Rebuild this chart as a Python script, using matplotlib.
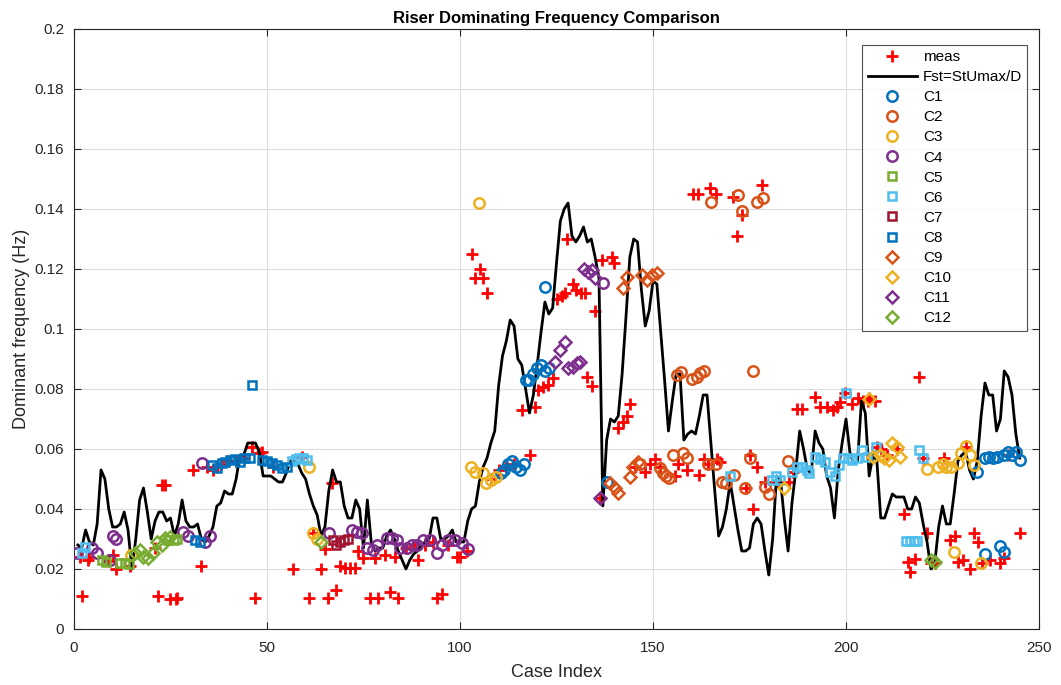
import matplotlib
matplotlib.use("Agg")
import matplotlib.pyplot as plt
import numpy as np

plt.rcParams['font.family'] = ['Liberation Sans', 'DejaVu Sans']

# ---------------- data ----------------
fst_y = [0.028, 0.027, 0.033, 0.029, 0.028, 0.035, 0.053, 0.050, 0.040, 0.034,
         0.034, 0.035, 0.039, 0.033, 0.020, 0.030, 0.043, 0.047, 0.039, 0.030,
         0.036, 0.039, 0.039, 0.036, 0.037, 0.031, 0.035, 0.043, 0.036, 0.034,
         0.034, 0.035, 0.030, 0.029, 0.031, 0.034, 0.041, 0.042, 0.046, 0.045,
         0.045, 0.050, 0.058, 0.058, 0.062, 0.062, 0.062, 0.059, 0.051, 0.051,
         0.051, 0.050, 0.049, 0.049, 0.052, 0.056, 0.056, 0.055, 0.052, 0.050,
         0.045, 0.041, 0.038, 0.031, 0.034, 0.046, 0.053, 0.049, 0.049, 0.041,
         0.037, 0.037, 0.043, 0.040, 0.027, 0.043, 0.029, 0.026, 0.027, 0.027,
         0.031, 0.033, 0.030, 0.026, 0.023, 0.020, 0.023, 0.025, 0.026, 0.028,
         0.029, 0.030, 0.037, 0.037, 0.030, 0.030, 0.031, 0.033, 0.029, 0.029,
         0.029, 0.036, 0.040, 0.041, 0.049, 0.054, 0.057, 0.062, 0.066, 0.081,
         0.091, 0.096, 0.103, 0.101, 0.090, 0.088, 0.080, 0.072, 0.078, 0.088,
         0.099, 0.109, 0.105, 0.107, 0.122, 0.136, 0.140, 0.142, 0.131, 0.129,
         0.131, 0.134, 0.129, 0.130, 0.124, 0.117, 0.041, 0.063, 0.070, 0.069,
         0.071, 0.085, 0.104, 0.124, 0.130, 0.129, 0.113, 0.101, 0.106, 0.116,
         0.115, 0.099, 0.083, 0.066, 0.076, 0.085, 0.085, 0.063, 0.065, 0.066,
         0.065, 0.071, 0.078, 0.078, 0.062, 0.046, 0.031, 0.034, 0.040, 0.049,
         0.041, 0.033, 0.026, 0.026, 0.027, 0.035, 0.037, 0.035, 0.026, 0.018,
         0.030, 0.051, 0.050, 0.037, 0.026, 0.042, 0.053, 0.066, 0.060, 0.053,
         0.052, 0.066, 0.062, 0.060, 0.051, 0.047, 0.037, 0.053, 0.062, 0.070,
         0.059, 0.055, 0.056, 0.076, 0.072, 0.051, 0.058, 0.056, 0.037, 0.037,
         0.041, 0.045, 0.044, 0.044, 0.044, 0.040, 0.040, 0.044, 0.042, 0.035,
         0.029, 0.020, 0.022, 0.034, 0.041, 0.035, 0.035, 0.045, 0.056, 0.058,
         0.059, 0.053, 0.050, 0.056, 0.071, 0.082, 0.078, 0.078, 0.066, 0.070,
         0.086, 0.084, 0.078, 0.065, 0.057]
fst_x = list(range(1, len(fst_y) + 1))

meas_x = [1.6, 2, 3.5, 4, 9, 10.2, 11, 14.5, 21, 21.8, 22.8, 23.6, 24.9, 26.4, 26.8,
          30.9, 33, 34.4, 36, 37, 38, 40, 42, 44, 46, 46.9, 48, 48.6, 51.6, 56.8, 59,
          61, 62, 63.9, 65, 65.8, 66.8, 68, 69, 70.2, 71.5, 72.8, 73.6, 74.9, 76.7,
          78, 78.8, 80.6, 81.9, 83.2, 84, 86, 88, 89, 91, 93, 94, 95.3, 97, 99.2,
          100, 101.8,
          103, 104, 105.2, 106, 107, 108, 110, 112, 114, 116, 118.1, 119.4, 120.3,
          121.6, 122.8, 124, 125, 126.4, 127.2, 127.8, 129.2, 130, 131.3, 132.4,
          132.8, 134.1, 135, 136.3, 136.7, 139.3, 139.9, 141, 142.3, 143.3, 144,
          145.3, 148, 149.2, 150.5, 151.8, 155.7, 156.6, 158.7, 160.3, 161.6, 162,
          163.2, 164.3, 164.8, 166.3, 166.5, 167.4, 170.8, 171.8, 173, 174.1, 175.1,
          176, 177, 178.2, 179, 182, 185.2, 186.3, 187.2, 188.5, 192, 193.3, 195,
          196.6, 197.6, 198.4, 199.7, 201.5, 203.2, 204.5, 205.8, 206, 207.5, 208,
          209, 210.7, 213.3, 215, 216.1, 216.6, 218, 219, 220, 221, 222, 223, 225.5,
          227, 228.2, 229.1, 230.2, 231.1, 232.1, 233.2, 234.3, 235.2, 237.3, 239.9,
          241, 242, 245]
meas_y = [0.024, 0.011, 0.023, 0.024, 0.0227, 0.0247, 0.020, 0.021, 0.027, 0.011,
          0.048, 0.048, 0.010, 0.010, 0.0105,
          0.053, 0.021, 0.054, 0.053, 0.054, 0.055, 0.056, 0.056, 0.057, 0.0608,
          0.0103, 0.0587, 0.059, 0.054, 0.020, 0.0574,
          0.0103, 0.032, 0.020, 0.0267, 0.0103, 0.0488, 0.013, 0.021, 0.0205, 0.0205,
          0.0205, 0.026, 0.0237, 0.0103,
          0.0237, 0.0103, 0.0247, 0.0124, 0.024, 0.0103, 0.027, 0.028, 0.023, 0.028,
          0.029, 0.0103, 0.0117, 0.028, 0.024,
          0.024, 0.026,
          0.125, 0.117, 0.120, 0.117, 0.112, 0.050, 0.053, 0.054, 0.055, 0.073,
          0.058, 0.074, 0.0797,
          0.0807, 0.0813, 0.0837, 0.110, 0.111, 0.112, 0.130, 0.115, 0.113, 0.112,
          0.112,
          0.084, 0.081, 0.106, 0.0437, 0.123, 0.124, 0.122, 0.067, 0.069, 0.071,
          0.075,
          0.054, 0.0524, 0.055, 0.0567, 0.054, 0.051, 0.055, 0.053, 0.145, 0.145,
          0.0513,
          0.0567, 0.055, 0.147, 0.145, 0.0567, 0.0558, 0.144, 0.131, 0.138, 0.047,
          0.058,
          0.040, 0.054, 0.148, 0.049, 0.049, 0.049, 0.0524, 0.0733, 0.0733, 0.0773,
          0.074, 0.074,
          0.073, 0.074, 0.0758, 0.0786, 0.075, 0.077, 0.076, 0.076, 0.077, 0.076,
          0.0608,
          0.060, 0.058, 0.060, 0.0383, 0.0224, 0.019, 0.0232, 0.084, 0.057, 0.032,
          0.022, 0.022, 0.057,
          0.0297, 0.031, 0.0224, 0.023, 0.0608, 0.020, 0.032, 0.029, 0.022, 0.023,
          0.022,
          0.0236, 0.058, 0.032]

c1_x = [110.5, 111.5, 112.5, 113.5, 114.5, 115.5, 116.5, 117, 118, 119, 120, 121,
        122, 123, 122, 138, 234, 236, 237, 238, 239, 241, 242, 243, 244, 245,
        236, 240, 241]
c1_y = [0.052, 0.053, 0.055, 0.056, 0.054, 0.053, 0.055, 0.083, 0.083, 0.085,
        0.087, 0.088, 0.086, 0.087, 0.114, 0.049, 0.0525, 0.057, 0.0575, 0.057,
        0.0575, 0.058, 0.059, 0.058, 0.059, 0.0565, 0.025, 0.0277, 0.0258]

c2_x = [165, 172, 173.1, 177, 178.4, 156.1, 157.2, 160, 161.3, 162.3, 163.2, 176,
        146.6, 151.8, 152.6, 153.4, 154.2, 155.1, 157.9, 158.9, 164.3, 166.3,
        167.9, 168.8, 170.9, 173.9, 175, 179.1, 180.1, 185.1]
c2_y = [0.1425, 0.1447, 0.1393, 0.1425, 0.1436, 0.0847, 0.0858, 0.0833, 0.0841,
        0.0852, 0.0861, 0.0861,
        0.055, 0.0537, 0.052, 0.051, 0.0503, 0.058, 0.0588, 0.0569, 0.055, 0.055,
        0.049, 0.0486, 0.0513, 0.0469, 0.0569, 0.0472, 0.045, 0.0561]

c3_x = [104.9, 102.8, 104, 106, 106.8, 108.1, 109.4, 14.8, 62, 62.9, 61,
        221, 223.8, 225, 226, 227.1, 229, 229.9, 231, 232.1, 233.2, 228, 235]
c3_y = [0.1419, 0.054, 0.0524, 0.0519, 0.0486, 0.0497, 0.0506, 0.0247, 0.032,
        0.030, 0.054,
        0.0535, 0.054, 0.055, 0.054, 0.054, 0.0552, 0.0586, 0.061, 0.058, 0.0547,
        0.0258, 0.0221]

c4_x = [0.7, 4.6, 5.9, 9.2, 10, 11, 28.3, 29.6, 33.1, 34, 35.2, 66.1, 71.9, 73.2,
        74.5, 75.8, 77.5, 78.4, 81, 82.3, 83.6, 84.5, 86.2, 87.5, 88.8, 90.5, 92.2,
        94, 95.3, 97, 98.7, 100.4, 102, 137]
c4_y = [0.0254, 0.0269, 0.0252, 0.023, 0.031, 0.030, 0.0324, 0.031, 0.0552, 0.029,
        0.031, 0.032, 0.033, 0.0324, 0.032, 0.0269, 0.0263, 0.028, 0.0302, 0.0302,
        0.0297, 0.0269, 0.0269, 0.028, 0.028, 0.0297, 0.0297, 0.0252, 0.028,
        0.0297, 0.0297, 0.0286, 0.0266, 0.1152]

c5_x = [7.2, 8.3, 11.9, 13.2, 14.3, 24.4, 25.9, 26.8]
c5_y = [0.023, 0.0224, 0.0221, 0.0219, 0.0217, 0.0297, 0.0297, 0.030]

c6_x = [2, 2.8, 56.4, 57.4, 58.4, 59.4, 60.4, 170, 180.8, 181.9, 183, 186, 187.3,
        188.6, 189.9, 190.5, 192, 193.3, 194.6, 195.9, 197.2, 198.1, 199.1, 200.5,
        201.6, 202.8, 204.1, 205.4, 200, 207.8, 218.9, 220, 215.5, 216.5, 217.5,
        218.5]
c6_y = [0.0252, 0.0274, 0.056, 0.0567, 0.057, 0.057, 0.0565, 0.051, 0.0497, 0.051,
        0.0497, 0.0524, 0.054, 0.054, 0.053, 0.052, 0.0574, 0.0566, 0.0558,
        0.0524, 0.051, 0.0547, 0.0569, 0.0569, 0.0563, 0.0569, 0.0597, 0.0574,
        0.0788, 0.0608, 0.0597, 0.0569, 0.0295, 0.0295, 0.0295, 0.0295]

c7_x = [67, 68, 69, 70, 71]
c7_y = [0.0297, 0.028, 0.029, 0.0297, 0.030]

c8_x = [31.3, 32.6, 35.7, 37, 38.3, 39.1, 40.4, 41.7, 43, 44.3, 45.6, 46,
        48.6, 49.9, 51.2, 52.5, 53.8, 55.1]
c8_y = [0.0297, 0.029, 0.0547, 0.0536, 0.0552, 0.0558, 0.0563, 0.0566, 0.0558,
        0.0569, 0.0569, 0.0813, 0.0563, 0.056, 0.0552, 0.0547, 0.0536, 0.054]

c9_x = [138.9, 140.2, 141, 144, 144.9, 146.2, 142.1, 143.2, 147.1, 148.4, 149.7, 151]
c9_y = [0.0487, 0.047, 0.0453, 0.0508, 0.054, 0.0558, 0.1136, 0.1172, 0.118,
        0.1165, 0.118, 0.1188]

c10_x = [183.9, 205.9, 206.9, 208.8, 209.8, 211.2, 211.8, 213.1, 214]
c10_y = [0.0469, 0.0766, 0.0574, 0.058, 0.0569, 0.0563, 0.0619, 0.0608, 0.0574]

c11_x = [132, 133.2, 134.1, 135, 124.6, 125.9, 127.2, 128, 129.4, 130.2, 131.1, 136.3]
c11_y = [0.120, 0.119, 0.1197, 0.1169, 0.089, 0.093, 0.0958, 0.0869, 0.0874,
         0.0886, 0.089, 0.0436]

c12_x = [15.8, 17.1, 18, 19.3, 20.5, 21.6, 22.7, 23.6, 24.9, 63.9, 222, 223]
c12_y = [0.0252, 0.0263, 0.0241, 0.0236, 0.0252, 0.029, 0.028, 0.0302, 0.0308,
         0.029, 0.023, 0.0224]

x_ticks = [0, 50, 100, 150, 200, 250]
y_ticks = [0, 0.02, 0.04, 0.06, 0.08, 0.1, 0.12, 0.14, 0.16, 0.18, 0.2]
y_tick_labels = ['0', '0.02', '0.04', '0.06', '0.08', '0.1', '0.12', '0.14',
                 '0.16', '0.18', '0.2']

# ---------------- plotting ----------------
blue = '#0072BD'
orange = '#D95319'
yellow = '#EDB120'
purple = '#7E2F8E'
green = '#77AC30'
cyan = '#4DBEEE'
darkred = '#A2142F'

fig = plt.figure(figsize=(10.61, 6.85), dpi=100)
ax = fig.add_axes([74 / 1061, 56 / 685, 965 / 1061, 600 / 685])

ax.plot(meas_x, meas_y, '+', color='red', ms=8, mew=2, label='meas', zorder=3)
ax.plot(fst_x, fst_y, '-', color='black', lw=2, label='Fst=StUmax/D', zorder=3)

series = [
    (c1_x, c1_y, 'o', blue, 'C1', 7.5),
    (c2_x, c2_y, 'o', orange, 'C2', 7.5),
    (c3_x, c3_y, 'o', yellow, 'C3', 7.5),
    (c4_x, c4_y, 'o', purple, 'C4', 7.5),
    (c5_x, c5_y, 's', green, 'C5', 6),
    (c6_x, c6_y, 's', cyan, 'C6', 6),
    (c7_x, c7_y, 's', darkred, 'C7', 6),
    (c8_x, c8_y, 's', blue, 'C8', 6),
    (c9_x, c9_y, 'D', orange, 'C9', 6),
    (c10_x, c10_y, 'D', yellow, 'C10', 6),
    (c11_x, c11_y, 'D', purple, 'C11', 6),
    (c12_x, c12_y, 'D', green, 'C12', 6),
]
for xs, ys, m, c, lab, s in series:
    ax.plot(xs, ys, m, mfc='none', mec=c, mew=1.8, ms=s, label=lab, zorder=4)

ax.set_xlim(0, 250)
ax.set_ylim(0, 0.2)
ax.set_xticks(x_ticks)
ax.set_yticks(y_ticks)
ax.set_yticklabels(y_tick_labels)
ax.grid(True, color='#dcdcdc', lw=0.8)
ax.set_axisbelow(True)
ax.tick_params(direction='in', top=True, right=True, length=5, width=0.8,
               labelsize=11, colors='#262626')
ax.tick_params(axis='x', pad=9)
ax.tick_params(axis='y', pad=7)
for sp in ax.spines.values():
    sp.set_color('#262626')
    sp.set_linewidth(0.8)

ax.set_title('Riser Dominating Frequency Comparison', fontsize=12,
             fontweight='bold', pad=4)
ax.set_xlabel('Case Index', fontsize=13, color='#262626', labelpad=6)
ax.set_ylabel('Dominant frequency (Hz)', fontsize=13, color='#262626', labelpad=3)

leg = ax.legend(loc='upper right', bbox_to_anchor=(0.988, 0.974), fontsize=11,
                frameon=True, fancybox=False, edgecolor='#262626',
                labelspacing=0.40, handlelength=3.2, borderpad=0.35,
                handletextpad=0.4, borderaxespad=0)
leg.get_frame().set_linewidth(0.8)

fig.savefig('out.png', dpi=100)
